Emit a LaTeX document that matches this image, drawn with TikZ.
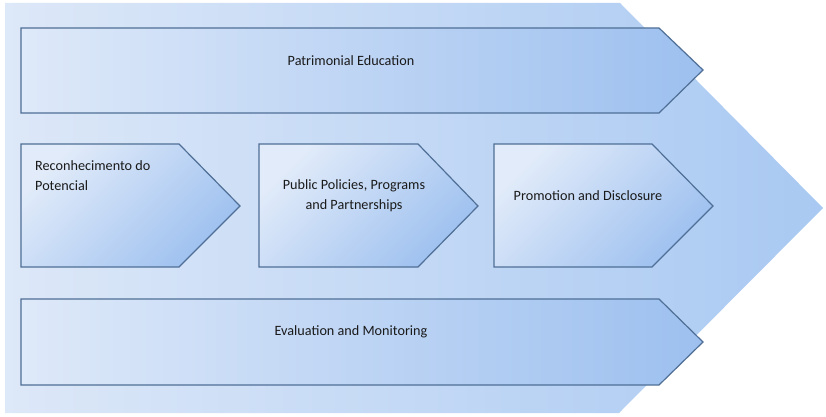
\documentclass[tikz,border=0pt]{standalone}
\usepackage{fontspec}
\setmainfont{Carlito}
\definecolor{bgL}{HTML}{DDE8F8}
\definecolor{bgR}{HTML}{A9C9F2}
\definecolor{shL}{HTML}{DEE9F9}
\definecolor{shR}{HTML}{9DC0EF}
\definecolor{edge}{HTML}{4F6F96}
\definecolor{txt}{HTML}{1A1A1A}
\tikzset{
  bgshape/.style={left color=bgL, right color=bgR, draw=none},
  barshape/.style={left color=shL, right color=shR, draw=edge, line width=1.2pt, line join=miter},
  stepshape/.style={left color=shL!90!white, right color=shR, shading angle=45, draw=edge, line width=1.2pt, line join=miter},
  lbl/.style={font=\fontsize{14.2}{20}\selectfont, text=txt, inner sep=0pt}
}
\begin{document}
\begin{tikzpicture}[x=1pt,y=-1pt]
\useasboundingbox (0,0) rectangle (826,417);
\fill[white] (0,0) rectangle (826,417);
% background chevron
\path[bgshape] (5,3) -- (620,3) -- (823,208) -- (619,413) -- (5,413) -- cycle;
% top bar
\path[barshape] (21,28) -- (659,28) -- (703,70) -- (659,113) -- (21,113) -- cycle;
\node[lbl] (pe) at (351,61) {Patrimonial Education};
% middle arrows
\path[stepshape] (21,144) -- (179,144) -- (240,206) -- (179,267) -- (21,267) -- cycle;
\node[lbl, anchor=west, align=left] (rp) at (35,176) {Reconhecimento do\\Potencial};
\path[stepshape] (259,144) -- (418,144) -- (478,206) -- (418,267) -- (259,267) -- cycle;
\node[lbl, align=center] (pp) at (354,196) {Public Policies, Programs\\and Partnerships};
\path[stepshape] (494,144) -- (652,144) -- (713,206) -- (652,267) -- (494,267) -- cycle;
\node[lbl] (pd) at (588,196) {Promotion and Disclosure};
% bottom bar
\path[barshape] (21,299) -- (659,299) -- (703,342) -- (659,385) -- (21,385) -- cycle;
\node[lbl] (em) at (351,332) {Evaluation and Monitoring};
\end{tikzpicture}
\end{document}
